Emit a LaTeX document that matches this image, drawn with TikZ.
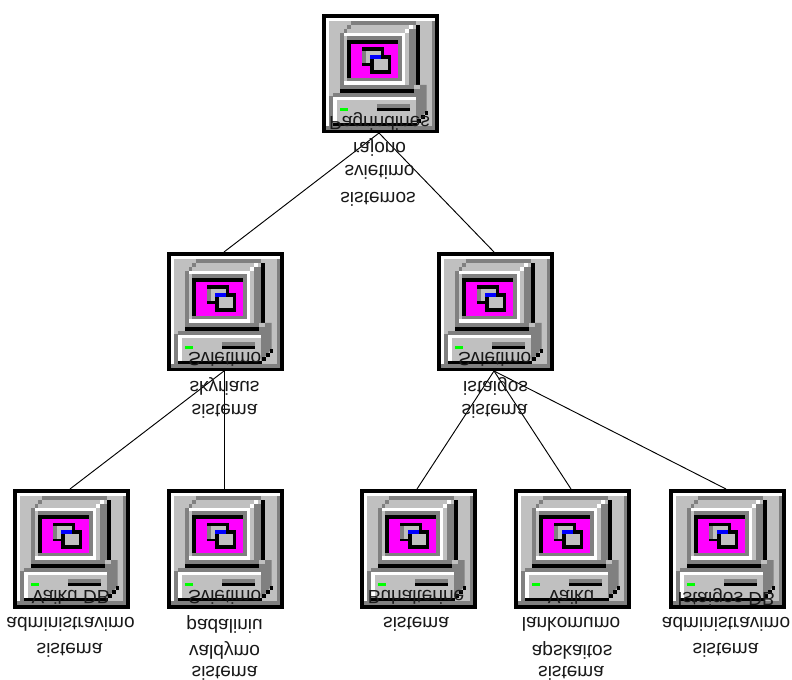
\documentclass[tikz,border=0pt]{standalone}
\usepackage{fontspec}
\usepackage{graphicx}
\setmainfont{Liberation Sans}
\definecolor{lg}{HTML}{C0C0C0}
\definecolor{dg}{HTML}{808080}
\definecolor{mg}{HTML}{FF00FF}
\definecolor{led}{HTML}{00FF00}
\definecolor{bl}{HTML}{0000FF}
\newcommand{\fr}[5]{\fill[#1] (#2,#3) rectangle (#4,#5);}
\newcommand{\fl}[1]{\scalebox{1}[-1]{#1}}
\tikzset{
  x=0.75pt,y=-0.75pt,
  iconbox/.style={minimum width=85.5pt,minimum height=89.25pt,inner sep=0pt,outer sep=0pt},
  lbl/.style={inner sep=0pt,yshift=-1.9pt,xshift=-0.7pt,font=\fontsize{14.3}{14.3}\selectfont,text=black!90},
  link/.style={draw=black,line width=0.7pt},
  pcicon/.pic={
    \fr{black}{0}{0}{117}{119.5}
    \fr{lg}{4}{4}{113}{115.7}
    \fr{white}{4}{4}{113}{6.7}
    \fr{white}{4}{4}{6.7}{112}
    \fr{dg}{110.3}{6.7}{113}{115.7}
    \fr{dg}{4}{112}{113}{115.7}
    % monitor top and sides
    \fr{dg}{29.3}{6.7}{94}{10.7}
    \fr{dg}{25.3}{10.7}{29.3}{14.7}
    \fr{dg}{22}{14.7}{25.3}{19.3}
    \fr{dg}{18}{19.3}{22}{79}
    \fr{dg}{86.7}{14.7}{94}{75}
    \fr{white}{86.7}{10.7}{90.7}{14.7}
    \fr{white}{82.7}{14.7}{86.7}{18.7}
    \fr{white}{22}{19.3}{82.7}{22}
    \fr{white}{80}{19.3}{82.7}{71}
    \fr{white}{22}{67}{82.7}{71}
    \fr{dg}{25.3}{22}{80}{26}
    \fr{dg}{76}{22}{80}{67}
    \fr{dg}{25.3}{22}{29}{67}
    \fr{dg}{25.3}{64}{80}{67}
    \fr{dg}{18}{71}{92}{75}
    \fr{black}{25.3}{26}{76}{30}
    \fr{black}{25.3}{26}{29.3}{64}
    \fr{mg}{29.3}{30}{76}{64}
    \fr{black}{94}{10.7}{98}{71}
    \fr{black}{18}{75}{92}{79}
    % base side
    \fill[dg] (94,71)--(104.7,71)--(104.7,96.7)--(94.7,108.7)--(94,108.7)--cycle;
    \fr{lg}{92}{71}{98}{75}
    \fr{dg}{92}{75}{98}{79}
    % base
    \fr{dg}{7.3}{82}{10.7}{112}
    \fr{dg}{10.7}{79}{94}{82.7}
    \fr{white}{10.7}{82.7}{94}{86}
    \fr{white}{10.7}{82.7}{14.7}{108.7}
    \fr{lg}{14.7}{86}{94}{108.7}
    \fr{black}{10.7}{108.7}{94.7}{112}
    \fr{black}{94.7}{104.7}{99}{108.7}
    \fr{black}{99}{100.7}{103}{104.7}
    \fr{black}{103}{96.7}{106}{100.7}
    \fr{led}{18}{94}{26.3}{97}
    \fr{dg}{55}{90.3}{88}{93.7}
    \fr{black}{55}{93.7}{88}{97}
    % windows on the screen
    \fr{black}{39.5}{33.5}{62}{37}
    \fr{black}{58.5}{33.5}{62}{41}
    \fr{dg}{39.5}{37}{43.5}{49.5}
    \fr{lg}{43.5}{37}{58.5}{49.5}
    \fr{black}{39.5}{49.5}{48}{52}
    \fr{bl}{48}{41}{59}{45}
    \fr{black}{59}{41}{69}{45}
    \fr{black}{48}{45}{69}{60}
    \fr{lg}{52}{45}{65.7}{56.3}
  }
}
\begin{document}
\begin{tikzpicture}
\useasboundingbox (0,0) rectangle (792,680);
\fill[white] (0,0) rectangle (792,680);
\node[iconbox,anchor=north west] (root) at (322,14) {};
\node[iconbox,anchor=north west] (dept) at (167,252) {};
\node[iconbox,anchor=north west] (inst) at (437,252) {};
\node[iconbox,anchor=north west] (kiddb) at (13,489) {};
\node[iconbox,anchor=north west] (units) at (167,489) {};
\node[iconbox,anchor=north west] (acct) at (360,489) {};
\node[iconbox,anchor=north west] (attend) at (514,489) {};
\node[iconbox,anchor=north west] (instdb) at (669,489) {};
\draw[link] (root.south) -- (dept.north);
\draw[link] (root.south) -- (inst.north);
\draw[link] (dept.south) -- (kiddb.north);
\draw[link] (dept.south) -- (units.north);
\draw[link] (inst.south) -- (acct.north);
\draw[link] (inst.south) -- (attend.north);
\draw[link] (inst.south) -- (instdb.north);
\foreach \n in {root,dept,inst,kiddb,units,acct,attend,instdb}{\pic at (\n.north west) {pcicon};}
% labels: each line is flipped top to bottom as printed
\node[lbl] (t1) at (380.5,118.5) {\fl{Pagrindines}};
\node[lbl] (t2) at (380.5,144.5) {\fl{rajono}};
\node[lbl] (t3) at (380.5,170) {\fl{svietimo}};
\node[lbl] (t4) at (379,197) {\fl{sistemos}};
\node[lbl] (t5) at (225.5,356.5) {\fl{Svietimo}};
\node[lbl] (t6) at (225.5,384) {\fl{skyriaus}};
\node[lbl] (t7) at (225.5,409) {\fl{sistema}};
\node[lbl] (t8) at (495.5,356.5) {\fl{Svietimo}};
\node[lbl] (t9) at (496.5,384) {\fl{istaigos}};
\node[lbl] (t10) at (495.5,409) {\fl{sistema}};
\node[lbl] (t11) at (71.5,594.5) {\fl{Vaiku DB}};
\node[lbl] (t12) at (71.5,622) {\fl{administravimo}};
\node[lbl] (t13) at (70.5,648) {\fl{sistema}};
\node[lbl] (t14) at (225.5,594.5) {\fl{Svietimo}};
\node[lbl] (t15) at (225.5,622) {\fl{padaliniu}};
\node[lbl] (t16) at (225.5,648) {\fl{valdymo}};
\node[lbl] (t17) at (225.5,671) {\fl{sistema}};
\node[lbl] (t18) at (417,594.5) {\fl{Buhalterine}};
\node[lbl] (t19) at (417,622) {\fl{sistema}};
\node[lbl] (t20) at (572,594.5) {\fl{Vaiku}};
\node[lbl] (t21) at (572,622) {\fl{lankomumo}};
\node[lbl] (t22) at (573,648) {\fl{apskaitos}};
\node[lbl] (t23) at (572,671) {\fl{sistema}};
\node[lbl] (t24) at (727,594.5) {\fl{Istaigos DB}};
\node[lbl] (t25) at (727,622) {\fl{administravimo}};
\node[lbl] (t26) at (726.5,648) {\fl{sistema}};
\end{tikzpicture}
\end{document}
